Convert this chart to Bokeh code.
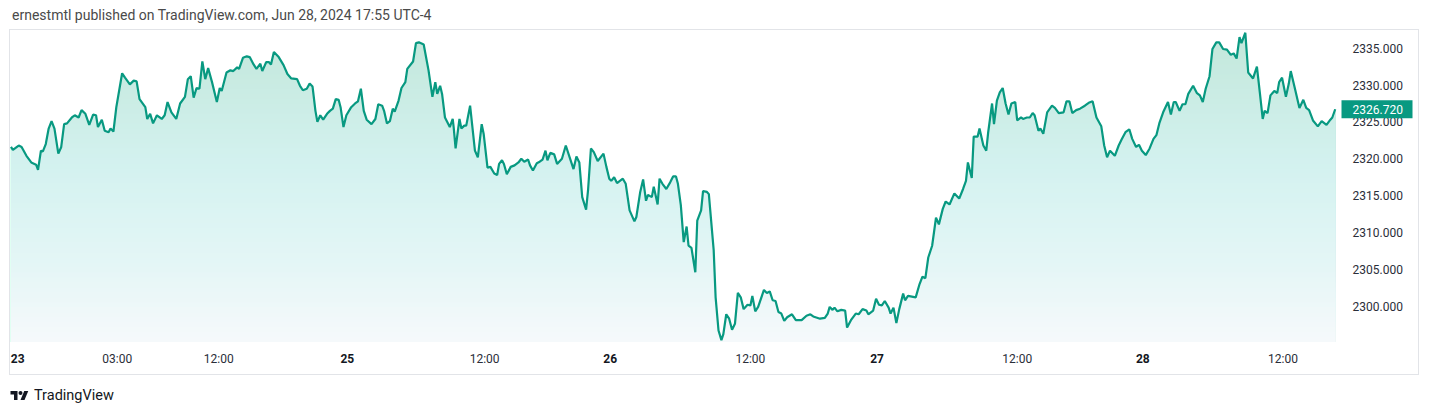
import numpy as np
from bokeh.plotting import figure
from bokeh.models import Range1d, Div
from bokeh.layouts import column
from bokeh.embed import file_html
from bokeh.resources import INLINE

# ---- data: 5-minute bar index (trading time, gaps removed) and price ----
bars_jun24 = [1, 3, 9, 12, 17, 22, 27, 29, 32, 34,
              37, 40, 43, 46, 50, 53, 56, 59, 64, 67,
              71, 74, 78, 82, 86, 89, 91, 95, 98, 102,
              104, 107, 110, 116, 119, 124, 128, 131, 134, 140,
              142, 145, 148, 152, 157, 160, 163, 167, 172, 176,
              181, 184, 187, 190, 193, 196, 199, 202, 205, 209,
              214, 217, 219, 224, 228, 231, 235, 237, 241, 245,
              248, 252, 255, 259, 261, 265, 268, 270, 273, 278,
              283, 287, 291, 297, 300, 303, 307, 310, 313, 316,
              318, 321, 324, 328, 331, 334, 337, 340, 342, 345,
              348]
price_jun24 = [2321.6, 2321.2, 2321.8, 2321.6, 2320.4, 2319.5, 2319.2, 2318.5, 2321.1, 2321.0,
               2322.0, 2324.1, 2325.1, 2324.1, 2320.7, 2321.6, 2324.7, 2324.8, 2325.6, 2325.9,
               2325.6, 2326.6, 2326.1, 2324.6, 2326.0, 2325.9, 2324.3, 2325.3, 2323.8, 2323.6,
               2324.1, 2323.7, 2327.0, 2331.6, 2331.0, 2330.1, 2330.6, 2330.5, 2328.1, 2327.0,
               2325.4, 2326.1, 2324.8, 2325.9, 2325.4, 2325.9, 2327.7, 2326.3, 2325.4, 2327.5,
               2328.4, 2330.8, 2331.2, 2328.3, 2329.6, 2329.5, 2333.2, 2330.8, 2332.3, 2330.4,
               2327.7, 2329.6, 2329.2, 2331.7, 2332.0, 2331.9, 2332.4, 2332.2, 2333.7, 2333.9,
               2333.8, 2332.8, 2332.2, 2332.9, 2331.9, 2333.1, 2333.1, 2332.8, 2334.5, 2333.8,
               2332.7, 2331.5, 2330.9, 2330.8, 2329.9, 2329.3, 2329.5, 2330.2, 2329.8, 2326.5,
               2325.0, 2325.9, 2325.3, 2326.1, 2326.5, 2326.8, 2328.1, 2328.0, 2327.0, 2324.3,
               2325.9]

bars_jun25 = [353, 357, 360, 363, 366, 369, 374, 378, 381, 385,
              387, 390, 393, 396, 398, 402, 405, 409, 411, 417,
              420, 423, 428, 433, 437, 440, 442, 445, 447, 450,
              455, 458, 459, 461, 465, 467, 470, 472, 476, 481,
              484, 488, 490, 494, 497, 501, 504, 506, 509, 511,
              514, 518, 522, 526, 529, 532, 536, 538, 541, 545,
              548, 551, 554, 556, 559, 563, 566, 571, 575, 579,
              583, 586, 589, 592, 596, 598, 601, 604, 608, 614,
              617, 620]
price_jun25 = [2327.0, 2327.5, 2327.8, 2329.5, 2326.5, 2325.3, 2324.7, 2325.4, 2327.4, 2327.2,
               2326.5, 2324.8, 2325.1, 2326.8, 2326.4, 2327.9, 2329.6, 2330.4, 2332.2, 2333.2,
               2335.7, 2335.8, 2335.5, 2332.0, 2328.4, 2330.4, 2328.8, 2329.9, 2328.8, 2325.6,
               2324.3, 2325.4, 2324.3, 2321.4, 2325.4, 2324.1, 2324.5, 2324.5, 2327.2, 2321.1,
               2320.2, 2324.7, 2323.4, 2318.8, 2318.9, 2318.0, 2317.8, 2319.3, 2319.8, 2319.3,
               2317.9, 2318.9, 2319.1, 2319.5, 2320.0, 2319.6, 2319.9, 2319.1, 2318.4, 2319.4,
               2319.6, 2319.9, 2321.1, 2319.8, 2320.8, 2320.6, 2319.3, 2320.0, 2321.8, 2320.2,
               2318.6, 2320.3, 2319.5, 2314.8, 2313.1, 2315.7, 2321.4, 2320.9, 2319.7, 2320.7,
               2318.9, 2317.3]

bars_jun26 = [622, 625, 628, 634, 637, 641, 646, 648, 652, 655,
              658, 660, 664, 666, 670, 672, 675, 679, 683, 686,
              689, 691, 694, 697, 700, 702, 705, 709, 711, 715,
              717, 721, 723, 728, 730, 733, 736, 738, 741, 744,
              747, 750, 753, 756, 759, 763, 766, 768, 771, 774,
              780, 783, 786, 789, 792, 795, 798, 801, 804, 809,
              813, 819, 824, 828, 831, 838, 843, 846, 848, 851,
              853, 856, 860, 864, 866, 870, 875, 878, 882, 886,
              888, 893, 896]
price_jun26 = [2317.0, 2317.5, 2316.7, 2317.3, 2316.6, 2313.0, 2311.5, 2312.1, 2315.5, 2317.2,
               2314.3, 2315.1, 2314.8, 2316.2, 2313.8, 2317.3, 2316.6, 2315.9, 2316.8, 2317.6,
               2317.6, 2316.6, 2313.7, 2308.7, 2310.8, 2308.2, 2307.9, 2304.6, 2311.6, 2313.0,
               2315.6, 2315.5, 2315.2, 2307.6, 2301.2, 2296.7, 2295.4, 2296.2, 2298.9, 2298.3,
               2296.8, 2297.6, 2301.8, 2301.2, 2299.6, 2300.2, 2300.1, 2301.4, 2299.3, 2299.9,
               2302.2, 2301.8, 2302.0, 2300.8, 2300.7, 2299.2, 2299.0, 2298.0, 2298.5, 2298.9,
               2298.1, 2298.1, 2298.7, 2298.9, 2298.6, 2298.3, 2298.4, 2299.0, 2299.9, 2299.5,
               2299.8, 2299.3, 2299.5, 2299.4, 2297.1, 2298.1, 2299.0, 2298.9, 2299.6, 2299.4,
               2298.9, 2299.4, 2301.0]

bars_jun27 = [899, 902, 905, 909, 911, 914, 917, 920, 924, 926,
              929, 937, 941, 944, 947, 950, 954, 958, 961, 965,
              968, 972, 977, 982, 986, 989, 991, 995, 997, 1001,
              1003, 1007, 1010, 1012, 1016, 1018, 1021, 1024, 1027, 1030,
              1033, 1036, 1040, 1042, 1046, 1048, 1052, 1055, 1058, 1060,
              1064, 1066, 1069, 1073, 1078, 1081, 1085, 1090, 1093, 1096,
              1099, 1103, 1107, 1112, 1116, 1120, 1124, 1129, 1132, 1135,
              1138, 1143, 1147, 1150, 1154, 1158, 1161, 1165, 1168, 1171]
price_jun27 = [2300.2, 2300.1, 2300.7, 2299.8, 2299.0, 2299.8, 2297.7, 2299.6, 2301.7, 2300.8,
               2301.4, 2301.2, 2303.0, 2304.0, 2303.8, 2306.6, 2308.2, 2312.0, 2311.1, 2313.2,
               2314.2, 2313.8, 2315.3, 2314.6, 2315.9, 2317.0, 2319.5, 2317.4, 2323.0, 2323.0,
               2324.1, 2321.8, 2321.1, 2323.6, 2327.5, 2324.7, 2327.9, 2329.0, 2329.6, 2327.5,
               2326.0, 2327.5, 2327.7, 2325.2, 2325.6, 2325.4, 2325.6, 2325.6, 2326.2, 2325.9,
               2323.8, 2324.1, 2323.4, 2326.3, 2327.2, 2326.9, 2326.2, 2326.3, 2327.8, 2327.8,
               2326.2, 2326.6, 2326.8, 2327.2, 2327.6, 2327.8, 2325.6, 2324.4, 2321.8, 2320.2,
               2321.1, 2320.4, 2321.8, 2322.6, 2323.6, 2324.0, 2322.7, 2321.6, 2321.9, 2321.1]

bars_jun28 = [1175, 1179, 1183, 1186, 1189, 1193, 1198, 1201, 1204, 1206,
              1210, 1213, 1216, 1219, 1224, 1228, 1231, 1234, 1237, 1241,
              1244, 1248, 1251, 1255, 1259, 1263, 1266, 1269, 1272, 1274,
              1278, 1281, 1286, 1290, 1293, 1296, 1298, 1301, 1304, 1308,
              1311, 1313, 1316, 1320, 1323, 1325, 1329, 1334, 1338, 1341,
              1344, 1348, 1353, 1357, 1362, 1366, 1368, 1371]
price_jun28 = [2320.5, 2321.4, 2322.7, 2323.2, 2324.8, 2326.3, 2327.7, 2326.0, 2327.7, 2327.7,
               2326.5, 2327.4, 2327.4, 2328.8, 2329.9, 2328.9, 2328.6, 2327.7, 2329.5, 2331.2,
               2334.9, 2335.8, 2335.8, 2334.9, 2334.8, 2334.1, 2334.3, 2333.6, 2336.5, 2335.7,
               2337.1, 2331.7, 2330.9, 2332.5, 2329.0, 2325.4, 2326.5, 2326.2, 2328.6, 2329.2,
               2328.9, 2330.4, 2331.0, 2328.4, 2330.2, 2331.9, 2329.7, 2326.9, 2328.0, 2326.9,
               2326.6, 2325.2, 2324.4, 2325.1, 2324.6, 2325.3, 2325.6, 2326.72]

last_price = 2326.72

price_ticks = [2300, 2305, 2310, 2315, 2320, 2325, 2330, 2335]
time_tick_bars = [111, 216, 491, 766, 1042, 1317]
time_tick_labels = ["03:00", "12:00", "12:00", "12:00", "12:00", "12:00"]
day_tick_bars = [8, 349, 621, 897, 1172]
day_tick_labels = ["23", "25", "26", "27", "28"]

header_text = "ernestmtl published on TradingView.com, Jun 28, 2024 17:55 UTC-4"
brand_text = "TradingView"

# ---- assemble ----
bars = np.array(bars_jun24 + bars_jun25 + bars_jun26 + bars_jun27 + bars_jun28, dtype=float)
prices = np.array(price_jun24 + price_jun25 + price_jun26 + price_jun27 + price_jun28, dtype=float)
assert len(bars) == len(prices)

LINE = "#089981"
FONT = "Roboto"
TEXT = "#2a2e39"

# ---- layout geometry (pixels) ----
W, H = 1410, 346                 # framed chart box
PX_BAR = 0.9666                  # pixels per 5-minute bar
X_OFF = 0.5                      # pixel of bar 0
PX_UNIT = 7.37                   # pixels per price unit
P_TOP = 2337.54                  # price at top edge of the box
PANE_H = 312.5                   # height of the price pane (above time scale)


def bar_at(px):
    return (px - X_OFF) / PX_BAR


def price_at(py):
    return P_TOP - py / PX_UNIT


x0, x1 = bar_at(0), bar_at(W)
y1, y0 = P_TOP, price_at(H)
pane_bottom = price_at(PANE_H)

p = figure(width=W, height=H, x_range=Range1d(x0, x1), y_range=Range1d(y0, y1),
           output_backend="svg", toolbar_location=None,
           x_axis_location=None, y_axis_location=None,
           min_border=0, background_fill_color="white", border_fill_color="white",
           outline_line_color="#c4c8d0", outline_line_dash="1 1", outline_line_width=1)
p.margin = (0, 0, 0, 9)
p.grid.visible = False

# vertical gradient fill: nested areas from the top band down (no seams)
stops = [(0.0, (246, 249, 251)), (0.25, (228, 246, 246)), (0.55, (212, 242, 240)),
         (1.0, (194, 231, 218))]


def grad(t):
    for (t0, c0), (t1, c1) in zip(stops[:-1], stops[1:]):
        if t <= t1:
            f = (t - t0) / (t1 - t0)
            return "#%02x%02x%02x" % tuple(int(round(a + (b - a) * f)) for a, b in zip(c0, c1))
    return "#%02x%02x%02x" % stops[-1][1]


edges = np.linspace(pane_bottom, P_TOP, 64)
base = np.full_like(prices, pane_bottom)
for lo, hi in reversed(list(zip(edges[:-1], edges[1:]))):
    t = ((lo + hi) / 2 - pane_bottom) / (P_TOP - pane_bottom)
    p.varea(x=bars, y1=base, y2=np.minimum(prices, hi), fill_color=grad(t), fill_alpha=1.0)

p.line(bars, prices, line_color=LINE, line_width=2.2)

# price scale (right)
scale_x = bar_at(1343)
p.text(x=[scale_x] * len(price_ticks), y=price_ticks,
       text=["%.3f" % v for v in price_ticks],
       text_align="left", text_baseline="middle", text_font_size="12px",
       text_color=TEXT, text_font={"value": FONT})

# time scale (bottom)
time_y = price_at(329)
p.text(x=time_tick_bars, y=[time_y] * len(time_tick_bars), text=time_tick_labels,
       text_align="center", text_baseline="middle", text_font_size="12px",
       text_color=TEXT, text_font={"value": FONT})
p.text(x=day_tick_bars, y=[time_y] * len(day_tick_bars), text=day_tick_labels,
       text_align="center", text_baseline="middle", text_font_size="12px",
       text_font_style="bold", text_color="#131722", text_font={"value": FONT})

# last price tag
p.quad(left=[bar_at(1332)], right=[bar_at(1403)],
       bottom=[last_price - 9 / PX_UNIT], top=[last_price + 9 / PX_UNIT],
       fill_color=LINE, line_color=None)
p.text(x=[scale_x], y=[last_price], text=["%.3f" % last_price],
       text_align="left", text_baseline="middle", text_font_size="12px",
       text_color="white", text_font={"value": FONT})

header = Div(text=header_text, width=1414, height=19,
             styles={"font-family": FONT, "font-size": "14px", "color": "#4a4a4a",
                     "padding-left": "7px", "line-height": "21px", "white-space": "nowrap"})

logo = ('<svg width="19" height="14" viewBox="0 0 36 28" style="vertical-align:middle">'
        '<path d="M14 22H7V11H0V4h14v18z" fill="#131722"/>'
        '<circle cx="20" cy="8" r="4" fill="#131722"/>'
        '<path d="M28 22h-8l7.5-18h8L28 22z" fill="#131722"/></svg>')
footer = Div(text='<div style="display:flex;align-items:center;">' + logo +
             '<span style="margin-left:5px;font-family:Roboto;font-size:14.5px;color:#131722">'
             + brand_text + '</span></div>',
             width=300, height=30,
             styles={"padding-left": "5px", "padding-top": "6px"})

layout = column(header, p, footer, spacing=0)
open("out.html", "w").write(file_html(layout, INLINE))
